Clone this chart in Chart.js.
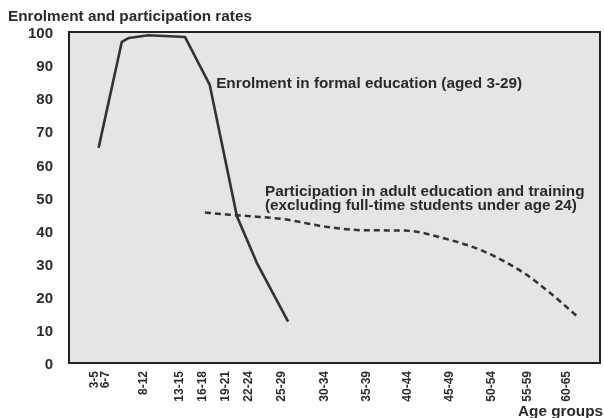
<!DOCTYPE html>
<html><head><meta charset="utf-8">
<script src="https://cdn.jsdelivr.net/npm/chart.js@4"></script>
<style>html,body{margin:0;padding:0;background:#fff}canvas{display:block}</style>
</head><body>
<canvas id="c" width="604" height="418"></canvas>
<script>
// ---- data ----
const ageGroups = ['3-5','6-7','8-12','13-15','16-18','19-21','22-24','25-29','30-34','35-39','40-44','45-49','50-54','55-59','60-65'];
// age (years) at which each group label is printed on the axis
const ageGroupTickPos = [3.2, 4.6, 9.3, 13.8, 16.7, 19.6, 22.5, 26.6, 32, 37.2, 42.3, 47.6, 52.8, 57.4, 62.2];
// Enrolment in formal education (aged 3-29)
const enrolAge  = [3.7, 6.6, 7.5, 9.9, 14.5, 17.6, 21, 23.5, 27.4];
const enrolRate = [65, 97, 98.2, 99, 98.5, 84, 44.3, 30.2, 12.5];
// Participation in adult education and training
const adultAge  = [17, 20, 23, 27, 32, 37, 42, 47, 52, 57, 60, 63.6];
const adultRate = [45.5, 44.8, 44.3, 43.4, 41.2, 40.1, 40, 37.6, 33.6, 27, 21.5, 14];

const yTitle = 'Enrolment and participation rates';
const xTitle = 'Age groups';
const note1 = ['Enrolment in formal education (aged 3-29)'];
const note2 = ['Participation in adult education and training', '(excluding full-time students under age 24)'];

const FONT = '"Liberation Sans", Arial, Helvetica, sans-serif';
const INK = '#2b2b2b';

const framePlugin = {
  id: 'frame',
  beforeDraw(chart) {
    const {ctx, chartArea: a} = chart;
    ctx.save();
    ctx.fillStyle = '#e5e5e5';
    ctx.fillRect(a.left, a.top, a.width, a.height);
    ctx.restore();
  },
  afterDraw(chart) {
    const {ctx, chartArea: a, scales} = chart;
    ctx.save();
    ctx.strokeStyle = '#222';
    ctx.lineWidth = 2;
    ctx.strokeRect(a.left, a.top, a.width, a.height);
    ctx.fillStyle = INK;
    ctx.font = 'bold 15.3px ' + FONT;
    ctx.textBaseline = 'alphabetic';
    ctx.textAlign = 'left';
    ctx.fillText(yTitle, 8, 21);
    // annotations anchored in data coordinates
    const x1 = scales.x.getPixelForValue(18.4), y1 = scales.y.getPixelForValue(83.1);
    note1.forEach((t, i) => ctx.fillText(t, x1, y1 + i * 13.5));
    const x2 = scales.x.getPixelForValue(24.5), y2 = scales.y.getPixelForValue(50.4);
    note2.forEach((t, i) => ctx.fillText(t, x2, y2 + i * 13.5));
    ctx.textAlign = 'right';
    ctx.fillText(xTitle, 603, 416);
    ctx.restore();
  }
};

new Chart(document.getElementById('c'), {
  type: 'line',
  data: {
    datasets: [
      {
        label: note1[0],
        data: enrolAge.map((a, i) => ({x: a, y: enrolRate[i]})),
        borderColor: '#333', borderWidth: 2.6,
        tension: 0, borderJoinStyle: 'round',
        pointRadius: 0, fill: false
      },
      {
        label: note2[0],
        data: adultAge.map((a, i) => ({x: a, y: adultRate[i]})),
        borderColor: '#333', borderWidth: 2.5, borderDash: [6, 4],
        cubicInterpolationMode: 'monotone',
        pointRadius: 0, fill: false
      }
    ]
  },
  options: {
    responsive: false,
    animation: false,
    layout: {padding: {top: 32, right: 4, left: 0, bottom: 0}},
    plugins: {legend: {display: false}, tooltip: {enabled: false}, title: {display: false}},
    scales: {
      x: {
        type: 'linear', min: 0, max: 66.4,
        grid: {display: false, drawTicks: false},
        border: {display: false},
        afterBuildTicks: (axis) => { axis.ticks = ageGroupTickPos.map(v => ({value: v})); },
        afterFit: (axis) => { axis.height = 55; },
        ticks: {
          autoSkip: false, minRotation: 90, maxRotation: 90, padding: 8,
          color: INK, font: {family: FONT, size: 12, weight: 'bold'},
          callback: (v, i) => ageGroups[i]
        }
      },
      y: {
        min: 0, max: 100,
        grid: {display: false, drawTicks: false},
        border: {display: false},
        afterFit: (axis) => { axis.width = 69; },
        ticks: {
          stepSize: 10, padding: 16, labelOffset: 2,
          color: INK, font: {family: FONT, size: 15, weight: 'bold'}
        }
      }
    }
  },
  plugins: [framePlugin]
});
</script>
</body></html>
